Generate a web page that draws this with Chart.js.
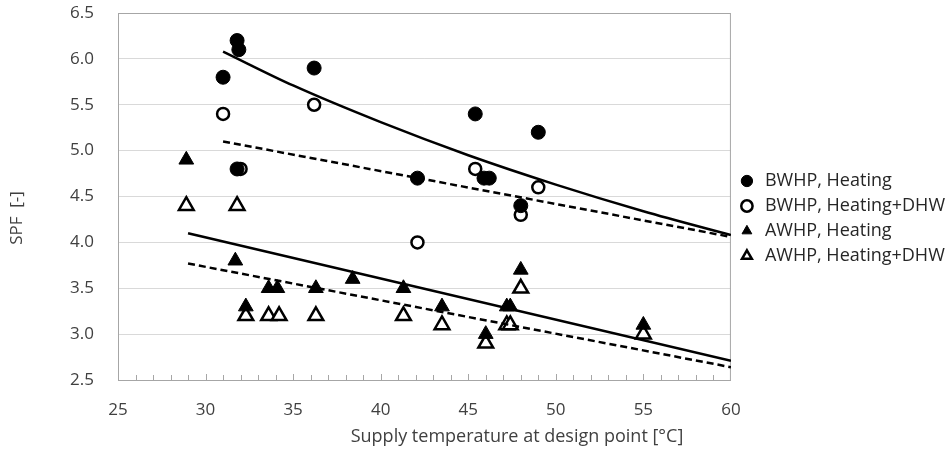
<!DOCTYPE html>
<html>
<head>
<meta charset="utf-8">
<script src="https://cdn.jsdelivr.net/npm/chart.js@4.4.1/dist/chart.umd.min.js"></script>
<style>
  html, body { margin: 0; padding: 0; background: #fff; }
  #wrap { width: 950px; height: 450px; }
</style>
</head>
<body>
<div id="wrap"><canvas id="chart"></canvas></div>
<script>
// measured points
const bwhpHeatX = [31.0, 31.8, 31.9, 31.8, 36.2, 45.4, 49.0, 42.1, 45.9, 46.2, 48.0];
const bwhpHeatY = [5.8, 6.2, 6.1, 4.8, 5.9, 5.4, 5.2, 4.7, 4.7, 4.7, 4.4];

const bwhpDhwX = [31.0, 32.0, 36.2, 45.4, 49.0, 42.1, 48.0];
const bwhpDhwY = [5.4, 4.8, 5.5, 4.8, 4.6, 4.0, 4.3];

const awhpHeatX = [28.9, 31.7, 32.3, 33.6, 34.1, 36.3, 38.4, 41.3, 43.5, 46.0, 47.2, 47.4, 48.0, 55.0];
const awhpHeatY = [4.9, 3.8, 3.3, 3.5, 3.5, 3.5, 3.6, 3.5, 3.3, 3.0, 3.3, 3.3, 3.7, 3.1];

const awhpDhwX = [28.9, 31.8, 32.3, 33.6, 34.2, 36.3, 41.3, 43.5, 46.0, 47.2, 47.4, 48.0, 55.0];
const awhpDhwY = [4.4, 4.4, 3.2, 3.2, 3.2, 3.2, 3.2, 3.1, 2.9, 3.1, 3.1, 3.5, 3.0];

// trendlines
const bwhpHeatTrendX = [31, 35, 40, 45, 50, 55, 60];
const bwhpHeatTrendY = [6.08, 5.71, 5.31, 4.95, 4.63, 4.34, 4.08];
const bwhpDhwTrendX = [31, 60];
const bwhpDhwTrendY = [5.10, 4.06];
const awhpHeatTrendX = [29, 60];
const awhpHeatTrendY = [4.10, 2.71];
const awhpDhwTrendX = [29, 60];
const awhpDhwTrendY = [3.77, 2.64];

const yTicks = [2.5, 3.0, 3.5, 4.0, 4.5, 5.0, 5.5, 6.0, 6.5];
const xTicks = [25, 30, 35, 40, 45, 50, 55, 60];

const toPts = (xs, ys) => xs.map((x, i) => ({ x, y: ys[i] }));

const family = "'Open Sans', sans-serif";
const font = { family, size: 17 };
const textColor = "#404040";

function markers(label, xs, ys, style, filled) {
    return {
        label,
        data: toPts(xs, ys),
        pointStyle: style,
        pointRadius: style === "triangle" ? 8.5 : (filled ? 7 : 6),
        backgroundColor: filled ? "#000" : "#fff",
        borderColor: "#000",
        borderWidth: filled ? 1 : 2.5,
        showLine: false,
        order: 1
    };
}

function trend(xs, ys, dashed) {
    return {
        data: toPts(xs, ys),
        showLine: true,
        pointRadius: 0,
        borderColor: "#000",
        borderWidth: 2.5,
        borderDash: dashed ? [7, 4] : [],
        cubicInterpolationMode: "monotone",
        order: 0
    };
}

const extras = {
    id: "extras",
    afterLayout(chart) {
        // lift the legend block a little, as in the original
        chart.legend.top -= 13;
        chart.legend.bottom -= 13;
    },
    beforeDatasetsDraw(chart) {
        const { ctx, chartArea: a, scales: { x } } = chart;
        ctx.save();
        ctx.strokeStyle = "#a6a6a6";
        ctx.lineWidth = 1;
        ctx.strokeRect(a.left + 0.5, a.top + 0.5, a.right - a.left - 1, a.bottom - a.top);
        ctx.beginPath();
        for (let v = 26; v < 60; v++) {
            const px = Math.round(x.getPixelForValue(v)) + 0.5;
            ctx.moveTo(px, a.bottom);
            ctx.lineTo(px, a.bottom - (v % 5 === 0 ? 6 : 5));
        }
        ctx.stroke();
        ctx.restore();
    },
    afterDraw(chart) {
        const { ctx } = chart;
        ctx.save();
        ctx.fillStyle = textColor;
        ctx.font = "18px " + family;
        ctx.textAlign = "center";
        ctx.textBaseline = "middle";
        ctx.fillText("Supply temperature at design point [°C]", 517, 437);
        ctx.translate(17, 218);
        ctx.rotate(-Math.PI / 2);
        ctx.font = "17px " + family;
        ctx.fillText("SPF  [-]", 0, 0);
        ctx.restore();
    }
};

new Chart(document.getElementById("chart"), {
    type: "scatter",
    data: {
        datasets: [
            markers("BWHP, Heating", bwhpHeatX, bwhpHeatY, "circle", true),
            markers("BWHP, Heating+DHW", bwhpDhwX, bwhpDhwY, "circle", false),
            markers("AWHP, Heating", awhpHeatX, awhpHeatY, "triangle", true),
            markers("AWHP, Heating+DHW", awhpDhwX, awhpDhwY, "triangle", false),
            trend(bwhpHeatTrendX, bwhpHeatTrendY, false),
            trend(bwhpDhwTrendX, bwhpDhwTrendY, true),
            trend(awhpHeatTrendX, awhpHeatTrendY, false),
            trend(awhpDhwTrendX, awhpDhwTrendY, true)
        ]
    },
    options: {
        responsive: true,
        maintainAspectRatio: false,
        animation: false,
        layout: { padding: { top: 13, right: -5, bottom: 0, left: 0 } },
        plugins: {
            tooltip: { enabled: false },
            legend: {
                position: "right",
                labels: {
                    usePointStyle: true,
                    boxHeight: 8,
                    padding: 7,
                    color: "#262626",
                    font: { family, size: 18 },
                    filter: item => !!item.text
                }
            }
        },
        scales: {
            x: {
                type: "linear",
                min: 25,
                max: 60,
                afterBuildTicks: s => { s.ticks = xTicks.map(value => ({ value })); },
                afterFit: s => { s.height = 70; },
                ticks: { color: textColor, font, padding: 12 },
                grid: { display: false },
                border: { color: "#a6a6a6" }
            },
            y: {
                min: 2.5,
                max: 6.5,
                afterBuildTicks: s => { s.ticks = yTicks.map(value => ({ value })); },
                afterFit: s => { s.width = 118; s.paddingTop = 12; s.paddingBottom = 12; },
                ticks: { color: textColor, font, padding: 24, callback: v => v.toFixed(1) },
                grid: { color: "#d9d9d9", drawTicks: false },
                border: { color: "#a6a6a6" }
            }
        }
    },
    plugins: [extras]
});
</script>
</body>
</html>
